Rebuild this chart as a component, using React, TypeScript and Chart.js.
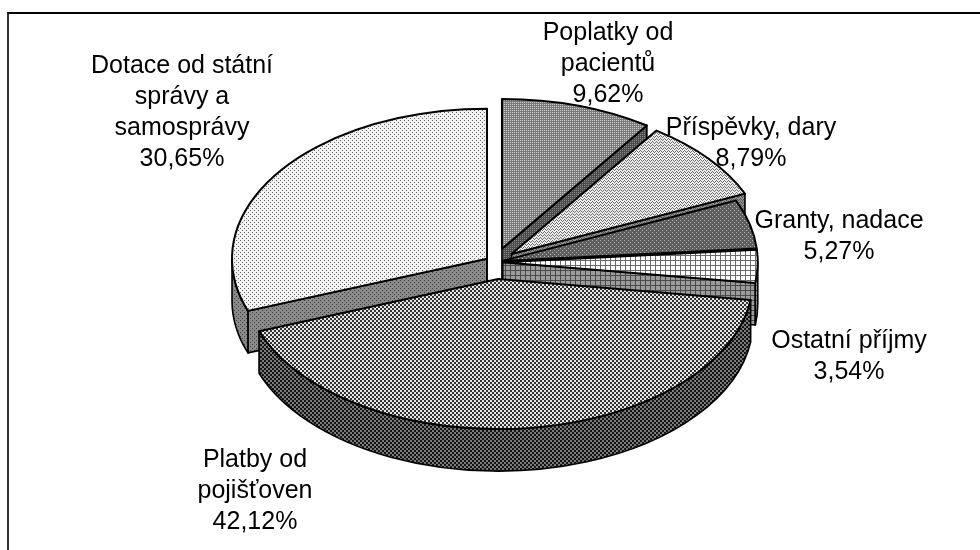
import React, { useEffect, useRef } from "react";
import { Chart, registerables } from "chart.js";

Chart.register(...registerables);

// ---- data ----
const categories = [
  "Poplatky od pacientů",
  "Příspěvky, dary",
  "Granty, nadace",
  "Ostatní příjmy",
  "Platby od pojišťoven",
  "Dotace od státní správy a samosprávy",
];
const values = [9.62, 8.79, 5.27, 3.54, 42.12, 30.65];
const labelLines = [
  ["Poplatky od", "pacientů"],
  ["Příspěvky, dary"],
  ["Granty, nadace"],
  ["Ostatní příjmy"],
  ["Platby od", "pojišťoven"],
  ["Dotace od státní", "správy a", "samosprávy"],
];
const percentLabels = values.map((v) => v.toFixed(2).replace(".", ",") + "%");

// ---- styling / layout (not data) ----
const explode = [24, 22, 8, 8, 30, 10];
const RX = 255;
const RY = 150;
const DEPTH = 42;
const labelAnchors: [number, number][] = [
  [608, 40],
  [751, 135],
  [839, 228],
  [849, 348],
  [255, 467],
  [182, 73],
];
const LINE_H = 31;
const FONT = '25px "Liberation Sans", Arial, sans-serif';

type Px = [number, number, string];
function makePattern(w: number, h: number, bg: string, px: Px[]) {
  const c = document.createElement("canvas");
  c.width = w;
  c.height = h;
  const g = c.getContext("2d")!;
  g.fillStyle = bg;
  g.fillRect(0, 0, w, h);
  for (const [x, y, col] of px) {
    g.fillStyle = col;
    g.fillRect(x, y, 1, 1);
  }
  const main = document.createElement("canvas").getContext("2d")!;
  return main.createPattern(c, "repeat")!;
}

function dots(color: string, pts: [number, number][]): Px[] {
  return pts.map(([x, y]) => [x, y, color] as Px);
}
function grid(w: number, h: number, color: string): Px[] {
  const out: Px[] = [];
  for (let x = 0; x < w; x++) out.push([x, 0, color]);
  for (let y = 1; y < h; y++) out.push([0, y, color]);
  return out;
}
function checker(w: number, dark: string): Px[] {
  const out: Px[] = [];
  for (let y = 0; y < w; y++)
    for (let x = 0; x < w; x++) {
      if (((x >> 1) + (y >> 1)) % 2 === 0) out.push([x, y, dark]);
    }
  return out;
}

function buildPatterns() {
  const quad: [number, number][] = [
    [0, 0],
    [2, 0],
    [0, 2],
    [2, 2],
  ];
  const diag: [number, number][] = [
    [0, 0],
    [2, 2],
  ];
  const zig: [number, number][] = [
    [0, 0],
    [1, 1],
    [2, 2],
    [3, 1],
  ];
  const top = [
    makePattern(4, 4, "#7a7a7a", dots("#cdcdcd", quad)),
    makePattern(4, 3, "#eeeeee", dots("#6e6e6e", zig)),
    makePattern(4, 4, "#5e5e5e", dots("#b4b4b4", diag)),
    makePattern(5, 5, "#ffffff", grid(5, 5, "#6a6a6a")),
    makePattern(4, 4, "#e6e6e6", checker(4, "#333333")),
    makePattern(4, 4, "#f2f2f2", dots("#666666", diag)),
  ];
  const side = [
    makePattern(4, 4, "#4a4a4a", dots("#8a8a8a", quad)),
    makePattern(4, 3, "#909090", dots("#505050", zig)),
    makePattern(4, 4, "#383838", dots("#707070", diag)),
    makePattern(5, 5, "#9c9c9c", grid(5, 5, "#4a4a4a")),
    makePattern(4, 4, "#7a7a7a", checker(4, "#151515")),
    makePattern(4, 4, "#8a8a8a", dots("#3e3e3e", diag)),
  ];
  return { top, side };
}

const pie3dPlugin = {
  id: "pie3d",
  beforeDatasetsDraw(chart: any) {
    const ctx: CanvasRenderingContext2D = chart.ctx;
    const arcs = chart.getDatasetMeta(0).data as any[];
    const pats = buildPatterns();
    const mids = arcs.map((a) => (a.startAngle + a.endAngle) / 2);
    const order = arcs.map((_, i) => i).sort((i, j) => Math.sin(mids[i]) - Math.sin(mids[j]));

    ctx.save();
    ctx.lineJoin = "round";
    ctx.strokeStyle = "#000";
    for (const i of order) {
      const a = arcs[i];
      const cx = a.x,
        cy = a.y,
        s = a.startAngle,
        e = a.endAngle,
        R = a.outerRadius;
      const sx = RX / R,
        sy = RY / R;
      const m = mids[i];
      const tx = cx + explode[i] * Math.cos(m) * sx;
      const ty = cy + explode[i] * Math.sin(m) * sy;
      const rx = R * sx,
        ry = R * sy;
      const P = (t: number): [number, number] => [tx + rx * Math.cos(t), ty + ry * Math.sin(t)];

      ctx.lineWidth = 1.6;
      ctx.fillStyle = pats.side[i];
      const face = (t: number) => {
        const p = P(t);
        ctx.beginPath();
        ctx.moveTo(tx, ty);
        ctx.lineTo(p[0], p[1]);
        ctx.lineTo(p[0], p[1] + DEPTH);
        ctx.lineTo(tx, ty + DEPTH);
        ctx.closePath();
        ctx.fill();
        ctx.stroke();
      };
      if (Math.cos(s) < 0) face(s);
      if (Math.cos(e) > 0) face(e);

      const a1 = Math.max(s, 0),
        a2 = Math.min(e, Math.PI);
      if (a2 > a1) {
        const p1 = P(a1),
          p2 = P(a2);
        ctx.beginPath();
        ctx.moveTo(p1[0], p1[1]);
        ctx.ellipse(tx, ty, rx, ry, 0, a1, a2, false);
        ctx.lineTo(p2[0], p2[1] + DEPTH);
        ctx.ellipse(tx, ty + DEPTH, rx, ry, 0, a2, a1, true);
        ctx.closePath();
        ctx.fill();
        ctx.stroke();
      }

      ctx.lineWidth = 2;
      ctx.fillStyle = pats.top[i];
      ctx.beginPath();
      ctx.moveTo(tx, ty);
      ctx.ellipse(tx, ty, rx, ry, 0, s, e, false);
      ctx.closePath();
      ctx.fill();
      ctx.stroke();
    }

    ctx.fillStyle = "#000";
    ctx.font = FONT;
    ctx.textAlign = "center";
    ctx.textBaseline = "alphabetic";
    arcs.forEach((_, i) => {
      const lines = [...labelLines[i], percentLabels[i]];
      const [lx, ly] = labelAnchors[i];
      lines.forEach((t, k) => ctx.fillText(t, lx, ly + k * LINE_H));
    });
    ctx.restore();
    return false;
  },
};

export default function App() {
  const ref = useRef<HTMLCanvasElement | null>(null);
  useEffect(() => {
    if (!ref.current) return;
    const chart = new Chart(ref.current, {
      type: "pie",
      data: {
        labels: categories,
        datasets: [{ data: values, borderWidth: 0, backgroundColor: "#999" }],
      },
      options: {
        responsive: false,
        animation: false,
        layout: { padding: { left: 10, right: 0, top: 0, bottom: 26 } },
        plugins: { legend: { display: false }, tooltip: { enabled: false } },
        events: [],
      },
      plugins: [pie3dPlugin as any],
    });
    return () => chart.destroy();
  }, []);
  return (
    <div
      style={{
        position: "absolute",
        left: 0,
        top: 0,
        width: 980,
        height: 550,
        overflow: "hidden",
        background: "#fff",
      }}
    >
      <div
        style={{
          position: "absolute",
          left: 7,
          top: 12,
          width: 1000,
          height: 600,
          borderLeft: "2px solid #333",
          borderTop: "2px solid #000",
        }}
      />
      <canvas ref={ref} width={980} height={550} style={{ position: "absolute", left: 0, top: 0 }} />
    </div>
  );
}
